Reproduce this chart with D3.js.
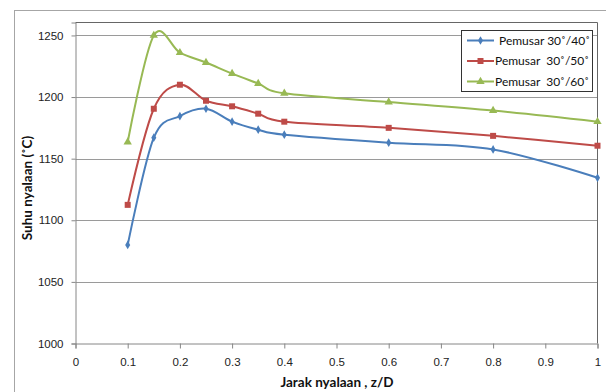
<!DOCTYPE html>
<html>
<head>
<meta charset="utf-8">
<script src="https://cdn.jsdelivr.net/npm/d3@7"></script>
<style>
  body { margin: 0; background: #fff; }
  svg { display: block; font-family: Lato, "Open Sans", sans-serif; }
</style>
</head>
<body>
<div id="chart"></div>
<script>
// data
const zD = [0.1, 0.15, 0.2, 0.25, 0.3, 0.35, 0.4, 0.6, 0.8, 1.0];
const suhu40 = [1080, 1167, 1184.5, 1190.5, 1180, 1173.5, 1169.5, 1163, 1157.5, 1134.5];
const suhu50 = [1112.5, 1190.5, 1210, 1197, 1192.5, 1186.5, 1180, 1175, 1168.5, 1160.5];
const suhu60 = [1163.5, 1250, 1236, 1228, 1219, 1211, 1203, 1196, 1189, 1180];
const seriesNames = ['Pemusar 30˚/40˚', 'Pemusar  30˚/50˚', 'Pemusar  30˚/60˚'];
const xTicks = [0, 0.1, 0.2, 0.3, 0.4, 0.5, 0.6, 0.7, 0.8, 0.9, 1];
const yTicks = [1000, 1050, 1100, 1150, 1200, 1250];

const W = 606, H = 392;
const colors = ['#4a7ebb', '#be4b48', '#98b954'];
const symbols = [d3.symbolDiamond, d3.symbolSquare, d3.symbolTriangle];
const symSize = [22, 36, 30];

const svg = d3.select('#chart').append('svg')
    .attr('width', W).attr('height', H)

// outer chart frame
svg.append('rect')
    .attr('x', 14.5).attr('y', 10.5)
    .attr('width', W + 10).attr('height', H + 10)
    .attr('fill', 'none').attr('stroke', '#a6a6a6')

const x = d3.scaleLinear().domain([0, 1]).range([75.5, 597.5])
const y = d3.scaleLinear().domain([1000, 1260.5]).range([343.5, 22.5])

// gridlines
svg.append('g').selectAll('line')
    .data(yTicks.slice(1))
    .join('line')
    .attr('x1', x(0)).attr('x2', x(1))
    .attr('y1', d => Math.round(y(d)) + 0.5).attr('y2', d => Math.round(y(d)) + 0.5)
    .attr('stroke', '#9a9a9a')

// plot area top / right edges
svg.append('path')
    .attr('d', `M${x(0)},${y.range()[1]}H${x(1)}V${y(1000)}`)
    .attr('fill', 'none').attr('stroke', '#666')

// axes
const xAxis = svg.append('g')
    .attr('transform', `translate(0,${y(1000)})`)
    .call(d3.axisBottom(x).tickValues(xTicks).tickSize(5).tickPadding(9)
        .tickFormat(d => String(d)))
const yAxis = svg.append('g')
    .attr('transform', `translate(${x(0)},0)`)
    .call(d3.axisLeft(y).tickValues(yTicks).tickSize(4).tickPadding(8)
        .tickFormat(d => String(d)))

for (const ax of [xAxis, yAxis]) {
    ax.select('.domain').attr('stroke', '#868686')
    ax.selectAll('.tick line').attr('stroke', '#868686')
    ax.selectAll('.tick text').attr('fill', '#222').style('font-size', '11.5px')
}

// series
const series = [suhu40, suhu50, suhu60].map((vals, i) => ({
    name: seriesNames[i],
    pts: zD.map((z, j) => [z, vals[j]])
}))

const line = d3.line()
    .x(d => x(d[0])).y(d => y(d[1]))
    .curve(d3.curveCatmullRom.alpha(0))

const g = svg.append('g')
series.forEach((s, i) => {
    g.append('path')
        .attr('d', line(s.pts))
        .attr('fill', 'none')
        .attr('stroke', colors[i])
        .attr('stroke-width', 2)
    g.selectAll('.m' + i)
        .data(s.pts)
        .join('path')
        .attr('class', 'm' + i)
        .attr('transform', d => `translate(${x(d[0])},${y(d[1])})`)
        .attr('d', d3.symbol(symbols[i], symSize[i]))
        .attr('fill', colors[i])
})

// axis titles
svg.append('text')
    .attr('x', 337).attr('y', 387)
    .attr('text-anchor', 'middle')
    .style('font-size', '13.5px').style('font-weight', 'bold')
    .attr('fill', '#111')
    .text('Jarak nyalaan , z/D')

svg.append('text')
    .attr('transform', 'translate(32,188) rotate(-90)')
    .attr('text-anchor', 'middle')
    .style('font-size', '13.5px').style('font-weight', 'bold')
    .attr('fill', '#111')
    .text('Suhu nyalaan (˚C)')

// legend
const lg = svg.append('g')
lg.append('rect')
    .attr('x', 461.5).attr('y', 30.5).attr('width', 131).attr('height', 61)
    .attr('fill', '#fff').attr('stroke', '#333')
series.forEach((s, i) => {
    const ly = 40.5 + i * 20.5
    lg.append('line')
        .attr('x1', 467).attr('x2', 494)
        .attr('y1', ly).attr('y2', ly)
        .attr('stroke', colors[i]).attr('stroke-width', 2)
    lg.append('path')
        .attr('transform', `translate(480.5,${ly})`)
        .attr('d', d3.symbol(symbols[i], symSize[i]))
        .attr('fill', colors[i])
    lg.append('text')
        .attr('x', i === 0 ? 499 : 495).attr('y', ly + 4)
        .style('font-size', '12px').style('white-space', 'pre')
        .attr('fill', '#111')
        .text(s.name)
})
</script>
</body>
</html>
